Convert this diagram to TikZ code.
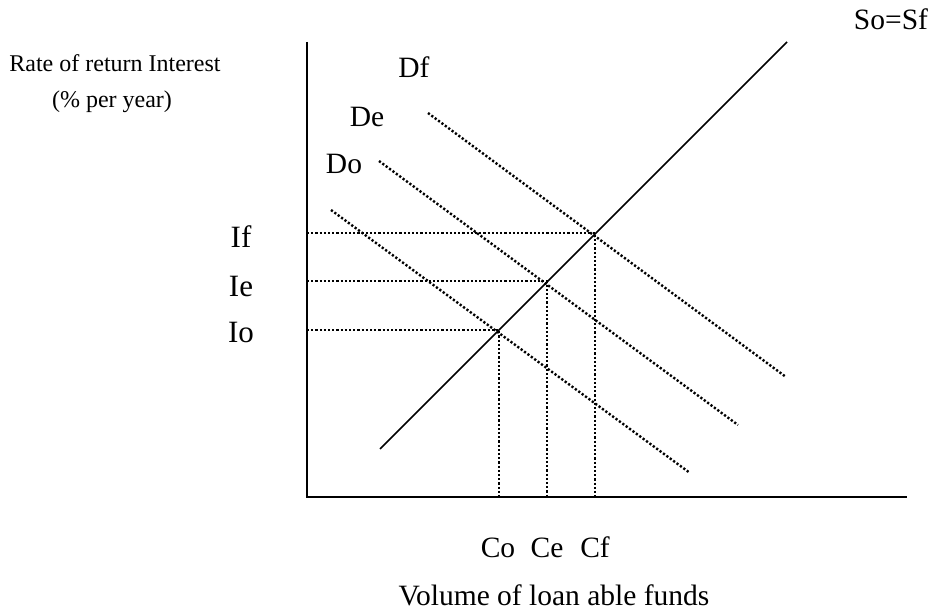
\documentclass[tikz,border=0pt]{standalone}
\usepackage{fontspec}
\setmainfont{Liberation Serif}
\begin{document}
\begin{tikzpicture}[x=1pt,y=-1pt,
  axis/.style={line width=2pt},
  supply/.style={line width=1.7pt},
  dots/.style={line width=2.4pt,dash pattern=on 2.2pt off 2pt},
  lab/.style={font=\fontsize{29.5}{32}\selectfont,inner sep=0pt,anchor=base},
  biglab/.style={font=\fontsize{31}{34}\selectfont,inner sep=0pt,anchor=base},
  smalllab/.style={font=\fontsize{24}{26}\selectfont,inner sep=0pt,anchor=base}]
\useasboundingbox (0,0) rectangle (932,612);
% axes
\coordinate (top) at (307,42);
\coordinate (O) at (307,497);
\coordinate (right) at (907,497);
\draw[axis] (top) -- (O) -- (right);
% supply
\coordinate (s1) at (380,449);
\coordinate (s2) at (787,42);
\draw[supply] (s1) -- (s2);
% equilibria
\coordinate (Eo) at (499,330);
\coordinate (Ee) at (547,281);
\coordinate (Ef) at (595,233);
\coordinate (Yo) at (307,330);
\coordinate (Ye) at (307,281);
\coordinate (Yf) at (307,233);
\coordinate (Xo) at (499,497);
\coordinate (Xe) at (547,497);
\coordinate (Xf) at (595,497);
% demand
\coordinate (do1) at (331,210);
\coordinate (do2) at (690,473);
\coordinate (de1) at (379,161);
\coordinate (de2) at (738,425);
\coordinate (df1) at (428,113);
\coordinate (df2) at (786,377);
\draw[dots] (do1) -- (do2);
\draw[dots] (de1) -- (de2);
\draw[dots] (df1) -- (df2);
% guide lines
\draw[dots] (Yo) -- (Eo) -- (Xo);
\draw[dots] (Ye) -- (Ee) -- (Xe);
\draw[dots] (Yf) -- (Ef) -- (Xf);
% labels
\node[smalllab] (rate) at (115,72) {Rate of return Interest};
\node[smalllab] (pct) at (112,108) {(\% per year)};
\node[lab] (SoSf) at (891,30) {So=Sf};
\node[lab] (Df) at (414,78) {Df};
\node[lab] (De) at (367,127) {De};
\node[lab] (Do) at (344,174) {Do};
\node[biglab] (If) at (241,248) {If};
\node[biglab] (Ie) at (241,297) {Ie};
\node[biglab] (Io) at (241,343) {Io};
\node[lab] (Co) at (498,557) {Co};
\node[lab] (Ce) at (547,557) {Ce};
\node[lab] (Cf) at (595,557) {Cf};
\node[lab] (vol) at (554,605) {Volume of loan able funds};
\end{tikzpicture}
\end{document}
